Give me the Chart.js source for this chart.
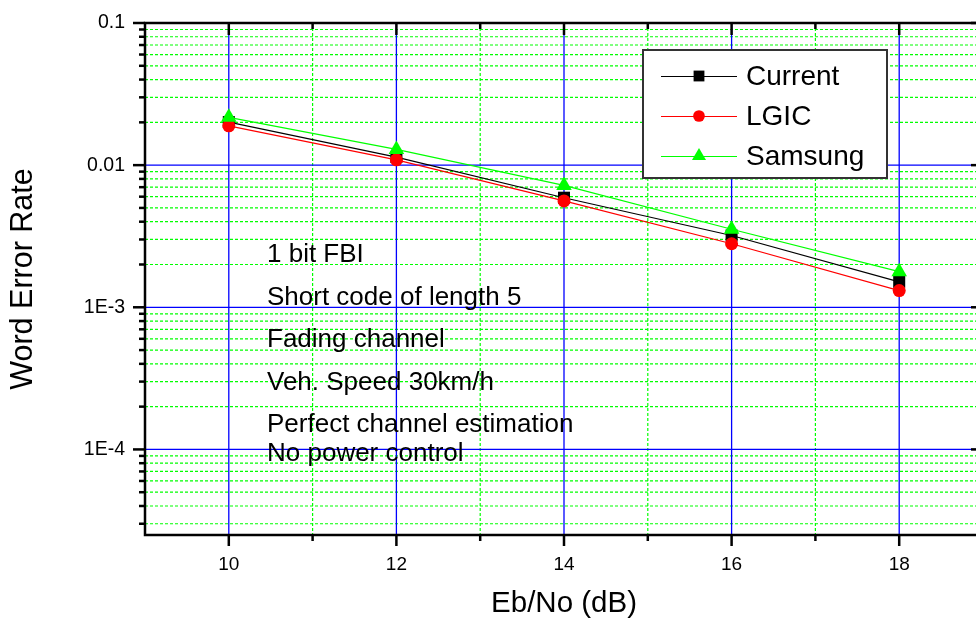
<!DOCTYPE html>
<html>
<head>
<meta charset="utf-8">
<script src="https://cdn.jsdelivr.net/npm/chart.js@4.4.0/dist/chart.umd.min.js"></script>
<style>
  html, body { margin: 0; padding: 0; background: #fff; overflow: hidden; }
  #wrap { width: 1000px; height: 624px; }
</style>
</head>
<body>
<div id="wrap"><canvas id="werChart" width="1000" height="624"></canvas></div>
<script>
// Eb/No (dB)
const ebNo = [10, 12, 14, 16, 18];
// Word error rate per scheme
const werCurrent = [0.0201, 0.0114, 0.0059, 0.0032, 0.00151];
const werLGIC = [0.0189, 0.0109, 0.0056, 0.0028, 0.00131];
const werSamsung = [0.0217, 0.0129, 0.0072, 0.00354, 0.00178];

const xTickValues = [10, 12, 14, 16, 18];
const xMinorValues = [11, 13, 15, 17];
const yTickValues = [0.1, 0.01, 0.001, 0.0001];
const yTickLabels = ['0.1', '0.01', '1E-3', '1E-4'];

const notes = ['1 bit FBI', 'Short code of length 5', 'Fading channel',
  'Veh. Speed 30km/h', 'Perfect channel estimation', 'No power control'];
const noteY = [255, 298, 340, 383, 425, 454];

const X_MIN = 9, X_MAX = 19, Y_MIN = 2.5e-5, Y_MAX = 0.1;

// minor log ticks 2..9 of every decade
const yMinorValues = [];
[1e-5, 1e-4, 1e-3, 1e-2].forEach(d => {
  for (let k = 2; k <= 9; k++) {
    const v = k * d;
    if (v > Y_MIN && v < Y_MAX) yMinorValues.push(v);
  }
});

const FONT = "'Liberation Sans', Arial, sans-serif";
Chart.defaults.font.family = FONT;
Chart.defaults.color = '#000';

const toXY = arr => ebNo.map((v, i) => ({ x: v, y: arr[i] }));

function seg(ctx, x1, y1, x2, y2) {
  ctx.beginPath();
  ctx.moveTo(x1, y1);
  ctx.lineTo(x2, y2);
  ctx.stroke();
}

const frame = {
  id: 'frame',
  beforeDatasetsDraw(chart) {
    const { ctx, chartArea: a, scales: { x, y } } = chart;
    ctx.save();
    ctx.beginPath();
    ctx.rect(a.left, a.top, a.right - a.left, a.bottom - a.top);
    ctx.clip();
    // minor grid - green dots
    ctx.lineWidth = 1.2;
    ctx.strokeStyle = '#00ff00';
    ctx.setLineDash([3, 2]);
    yMinorValues.forEach(v => {
      const py = y.getPixelForValue(v);
      seg(ctx, a.left, py, a.right, py);
    });
    xMinorValues.forEach(v => {
      const px = x.getPixelForValue(v);
      seg(ctx, px, a.top, px, a.bottom);
    });
    // major grid - blue
    ctx.setLineDash([]);
    ctx.lineWidth = 1.3;
    ctx.strokeStyle = '#0000ff';
    yTickValues.forEach(v => {
      const py = y.getPixelForValue(v);
      seg(ctx, a.left, py, a.right, py);
    });
    xTickValues.forEach(v => {
      const px = x.getPixelForValue(v);
      seg(ctx, px, a.top, px, a.bottom);
    });
    ctx.restore();
  },
  afterDraw(chart) {
    const { ctx, chartArea: a, scales: { x, y } } = chart;
    ctx.save();
    ctx.setLineDash([]);
    ctx.strokeStyle = '#000';
    ctx.lineWidth = 2.5;
    ctx.strokeRect(a.left, a.top, a.right - a.left, a.bottom - a.top);

    // tick marks: left/bottom outward, top/right inward
    yTickValues.forEach(v => {
      const py = y.getPixelForValue(v);
      seg(ctx, a.left - 12, py, a.left, py);
      seg(ctx, a.right, py, a.right - 12, py);
    });
    yMinorValues.forEach(v => {
      const py = y.getPixelForValue(v);
      seg(ctx, a.left - 6, py, a.left, py);
      seg(ctx, a.right, py, a.right - 6, py);
    });
    xTickValues.forEach(v => {
      const px = x.getPixelForValue(v);
      seg(ctx, px, a.bottom, px, a.bottom + 11);
      seg(ctx, px, a.top, px, a.top + 12);
    });
    xMinorValues.forEach(v => {
      const px = x.getPixelForValue(v);
      seg(ctx, px, a.bottom, px, a.bottom + 6);
      seg(ctx, px, a.top, px, a.top + 6);
    });

    // annotation text
    ctx.fillStyle = '#000';
    ctx.font = '26px ' + FONT;
    ctx.textAlign = 'left';
    ctx.textBaseline = 'middle';
    notes.forEach((t, i) => ctx.fillText(t, 267, noteY[i]));

    // legend box
    const bx = 643, by = 50, bw = 244, bh = 128;
    ctx.fillStyle = '#fff';
    ctx.fillRect(bx, by, bw, bh);
    ctx.strokeStyle = '#333';
    ctx.lineWidth = 2;
    ctx.strokeRect(bx, by, bw, bh);
    const rows = [76, 116, 156];
    ctx.font = '28px ' + FONT;
    chart.data.datasets.forEach((ds, i) => {
      const cy = rows[i];
      ctx.strokeStyle = ds.borderColor;
      ctx.lineWidth = 1.2;
      seg(ctx, 661, cy + 0.5, 737, cy + 0.5);
      ctx.fillStyle = ds.pointBackgroundColor;
      Chart.helpers.drawPoint(ctx, {
        pointStyle: ds.pointStyle,
        radius: ds.pointRadius * 0.9,
        rotation: 0,
        borderWidth: 0
      }, 699, cy);
      ctx.fillStyle = '#000';
      ctx.fillText(ds.label, 746, cy + 1);
    });
    ctx.restore();
  }
};

const datasets = [
  {
    label: 'Current', data: toXY(werCurrent),
    borderColor: '#000000', pointBackgroundColor: '#000000',
    pointStyle: 'rect', pointRadius: 8.5, order: 2
  },
  {
    label: 'LGIC', data: toXY(werLGIC),
    borderColor: '#ff0000', pointBackgroundColor: '#ff0000',
    pointStyle: 'circle', pointRadius: 6.5, order: 1
  },
  {
    label: 'Samsung', data: toXY(werSamsung),
    borderColor: '#00ff00', pointBackgroundColor: '#00ff00',
    pointStyle: 'triangle', pointRadius: 9, order: 0
  }
].map(d => Object.assign(d, { borderWidth: 1.2, pointBorderWidth: 0, tension: 0, fill: false }));

new Chart(document.getElementById('werChart'), {
  type: 'line',
  data: { datasets },
  options: {
    responsive: false,
    animation: false,
    events: [],
    layout: { padding: { left: 0, top: 23, right: 17, bottom: 0 } },
    plugins: { legend: { display: false }, tooltip: { enabled: false } },
    scales: {
      x: {
        type: 'linear', min: X_MIN, max: X_MAX,
        afterBuildTicks: s => { s.ticks = xTickValues.map(v => ({ value: v })); },
        afterFit: s => { s.height = 89; s.paddingLeft = 0; s.paddingRight = 0; },
        grid: { display: false, drawTicks: false, drawOnChartArea: false },
        border: { display: false },
        ticks: { font: { size: 19 }, padding: 18, autoSkip: false, maxRotation: 0, callback: v => String(v) },
        title: { display: true, text: 'Eb/No (dB)', font: { size: 29.5 }, padding: { top: 0, bottom: 2 } }
      },
      y: {
        type: 'logarithmic', min: Y_MIN, max: Y_MAX,
        afterBuildTicks: s => { s.ticks = yTickValues.map(v => ({ value: v })); },
        afterFit: s => { s.width = 145; s.paddingTop = 0; s.paddingBottom = 0; },
        grid: { display: false, drawTicks: false, drawOnChartArea: false },
        border: { display: false },
        ticks: {
          font: { size: 19.5 }, padding: 20, autoSkip: false,
          callback: v => { const i = yTickValues.indexOf(v); return i >= 0 ? yTickLabels[i] : ''; }
        },
        title: { display: true, text: 'Word Error Rate', font: { size: 30.5 }, padding: { top: 5, bottom: 0 } }
      }
    }
  },
  plugins: [frame]
});
</script>
</body>
</html>
